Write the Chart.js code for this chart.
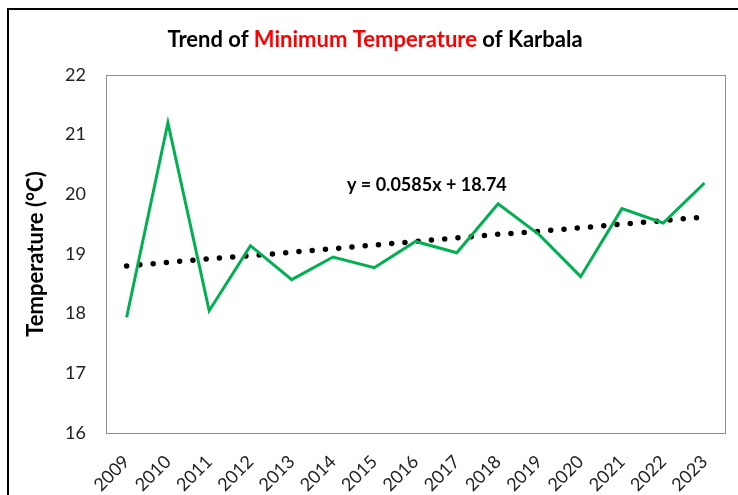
<!DOCTYPE html>
<html>
<head>
<meta charset="utf-8">
<script src="https://cdn.jsdelivr.net/npm/chart.js@4"></script>
<style>
  html, body { margin: 0; padding: 0; background: #fff; }
  #wrap { position: relative; width: 738px; height: 495px; }
</style>
</head>
<body>
<div id="wrap"><canvas id="chart" width="738" height="495"></canvas></div>
<script>
// Minimum temperature of Karbala, 2009-2023
const years = ['2009','2010','2011','2012','2013','2014','2015','2016','2017','2018','2019','2020','2021','2022','2023'];
const minTemp = [17.94, 21.20, 18.05, 19.14, 18.57, 18.95, 18.77, 19.21, 19.02, 19.84, 19.32, 18.62, 19.76, 19.52, 20.19];
const trendVals = [18.80, 18.86, 18.92, 18.97, 19.03, 19.09, 19.15, 19.21, 19.27, 19.33, 19.38, 19.44, 19.50, 19.56, 19.62];
const yTicks = [16, 17, 18, 19, 20, 21, 22];

const FONT = 'Lato, "Open Sans", sans-serif';

// title (mixed colours), equation text, plot box and outer frame
const decor = {
  id: 'decor',
  afterDraw(chart) {
    const ctx = chart.ctx;
    const a = chart.chartArea;
    ctx.save();
    // outer frame
    ctx.strokeStyle = '#000';
    ctx.lineWidth = 2;
    ctx.strokeRect(8, 9, 800, 600);
    // plot box
    ctx.strokeStyle = '#8c8c8c';
    ctx.lineWidth = 1;
    ctx.strokeRect(Math.round(a.left) + 0.5, Math.round(a.top) + 0.5, Math.round(a.right - a.left), Math.round(a.bottom - a.top));
    // title
    const parts = [['Trend of ', '#000'], ['Minimum Temperature', '#ff0000'], [' of Karbala', '#000']];
    ctx.font = 'bold 22px ' + FONT;
    ctx.textBaseline = 'middle';
    ctx.textAlign = 'left';
    const total = parts.reduce((s, p) => s + ctx.measureText(p[0]).width, 0);
    let x = 375 - total / 2;
    parts.forEach(p => {
      ctx.fillStyle = p[1];
      ctx.fillText(p[0], x, 40);
      x += ctx.measureText(p[0]).width;
    });
    // trendline equation
    ctx.font = 'bold 18px ' + FONT;
    ctx.fillStyle = '#000';
    ctx.fillText('y = 0.0585x + 18.74', 347, 185);
    ctx.restore();
  }
};

new Chart(document.getElementById('chart'), {
  type: 'line',
  data: {
    labels: years,
    datasets: [
      {
        label: 'Min Temp',
        data: minTemp,
        borderColor: '#00b050',
        borderWidth: 3,
        pointRadius: 0,
        tension: 0,
        order: 1
      },
      {
        label: 'Linear trend',
        data: trendVals,
        borderColor: '#000',
        borderWidth: 5.5,
        borderDash: [0, 13.3],
        borderCapStyle: 'round',
        pointRadius: 0,
        tension: 0,
        order: 2
      }
    ]
  },
  options: {
    responsive: false,
    animation: false,
    devicePixelRatio: 1,
    layout: { padding: { top: 75, right: 8, bottom: 0, left: 0 } },
    plugins: { legend: { display: false }, tooltip: { enabled: false } },
    scales: {
      x: {
        offset: true,
        grid: { display: false, drawTicks: false },
        border: { display: false },
        ticks: {
          maxRotation: 45, minRotation: 45,
          padding: 18,
          color: '#222',
          font: { family: FONT, size: 18 }
        },
        afterFit(scale) { scale.height = 62; }
      },
      y: {
        min: 16, max: 22,
        grid: { display: false, drawTicks: false },
        border: { display: false },
        afterBuildTicks(scale) { scale.ticks = yTicks.map(v => ({ value: v })); },
        ticks: {
          padding: 20,
          color: '#222',
          font: { family: FONT, size: 18 }
        },
        title: {
          display: true,
          text: 'Temperature (°C)',
          color: '#000',
          font: { family: FONT, size: 22, weight: 'bold' },
          padding: { top: 23, bottom: 0 }
        },
        afterFit(scale) { scale.width = 106; }
      }
    }
  },
  plugins: [decor]
});
</script>
</body>
</html>
